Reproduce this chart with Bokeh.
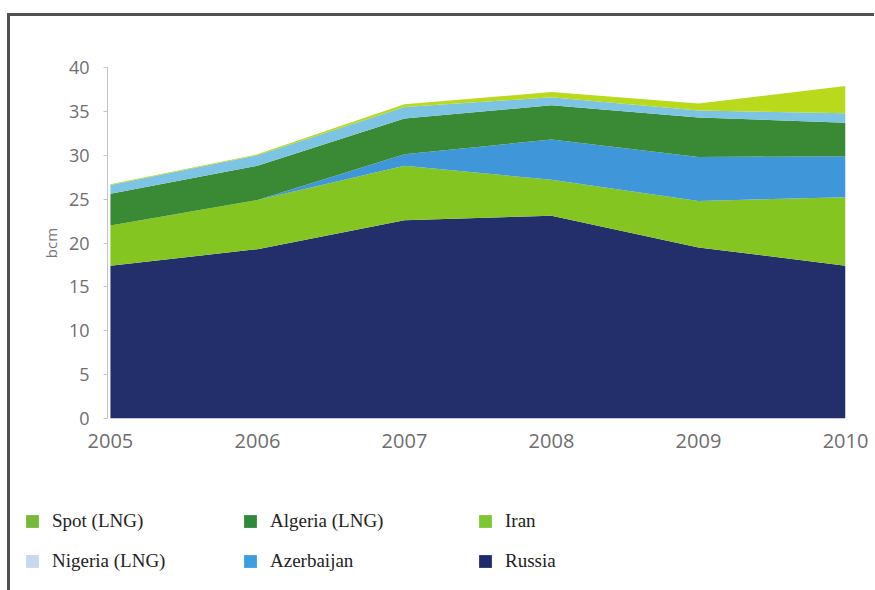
import numpy as np
from bokeh.plotting import figure
from bokeh.models import ColumnDataSource, Legend, LegendItem, FixedTicker, Range1d
from bokeh.layouts import column
from bokeh.embed import file_html
from bokeh.resources import INLINE

years = [2005, 2006, 2007, 2008, 2009, 2010]
russia = [17.4, 19.3, 22.6, 23.1, 19.5, 17.4]
iran = [4.6, 5.6, 6.2, 4.1, 5.3, 7.8]
azerbaijan = [0.0, 0.0, 1.3, 4.6, 5.0, 4.7]
algeria = [3.6, 3.9, 4.1, 3.9, 4.5, 3.8]
nigeria = [1.0, 1.2, 1.3, 0.9, 0.8, 1.1]
spot = [0.1, 0.1, 0.3, 0.6, 0.8, 3.1]

series = ["Russia", "Iran", "Azerbaijan", "Algeria (LNG)", "Nigeria (LNG)", "Spot (LNG)"]
area_colors = ["#232f6a", "#84c521", "#3f97d9", "#3a8a35", "#7cc3e4", "#b8d91c"]
legend_colors = {"Spot (LNG)": "#78b83c", "Algeria (LNG)": "#2f8a3b", "Iran": "#7dc832",
                 "Nigeria (LNG)": "#c6d8ee", "Azerbaijan": "#3a9ee0", "Russia": "#1e2a6e"}
y_ticks = [0, 5, 10, 15, 20, 25, 30, 35, 40]

src = ColumnDataSource(dict(x=years, **{"Russia": russia, "Iran": iran, "Azerbaijan": azerbaijan,
                                        "Algeria (LNG)": algeria, "Nigeria (LNG)": nigeria,
                                        "Spot (LNG)": spot}))

p = figure(width=864, height=447, output_backend="svg", toolbar_location=None,
           x_range=Range1d(2004.98, 2010.0), y_range=Range1d(0, 40),
           min_border_left=97, min_border_right=29, min_border_top=51, min_border_bottom=45)
p.frame_align = False

p.varea_stack(stackers=series, x="x", color=area_colors, source=src)

p.xgrid.visible = False
p.ygrid.visible = False
p.outline_line_color = None

p.xaxis.ticker = FixedTicker(ticks=years)
p.xaxis.axis_line_color = None
p.xaxis.major_tick_line_color = None
p.xaxis.minor_tick_line_color = None
p.xaxis.major_label_standoff = 9
p.xaxis.major_label_text_font = "Open Sans"
p.xaxis.major_label_text_font_size = "20px"
p.xaxis.major_label_text_color = "#6e6e6e"

p.yaxis.ticker = FixedTicker(ticks=y_ticks)
p.yaxis.axis_line_color = "#c4c4c4"
p.yaxis.major_tick_line_color = "#c4c4c4"
p.yaxis.major_tick_out = 4
p.yaxis.major_tick_in = 0
p.yaxis.minor_tick_line_color = None
p.yaxis.major_label_standoff = 14
p.yaxis.major_label_text_font = "Open Sans"
p.yaxis.major_label_text_font_size = "18px"
p.yaxis.major_label_text_color = "#6e6e6e"
p.yaxis.axis_label = "bcm"
p.yaxis.axis_label_text_font = "Open Sans"
p.yaxis.axis_label_text_font_style = "normal"
p.yaxis.axis_label_text_font_size = "15px"
p.yaxis.axis_label_text_color = "#777777"
p.yaxis.axis_label_standoff = 5

# legend panel
q = figure(width=864, height=127, output_backend="svg", toolbar_location=None,
           x_range=Range1d(0, 864), y_range=Range1d(0, 127),
           min_border=0, min_border_left=0, min_border_right=0,
           min_border_top=0, min_border_bottom=0)
q.frame_align = False
q.axis.visible = False
q.grid.visible = False
q.outline_line_color = None

nan = [np.nan]
dummies = {}
for name in series:
    dummies[name] = q.quad(left=nan, right=nan, bottom=nan, top=nan,
                           fill_color=legend_colors[name], line_color=None)

columns = [["Spot (LNG)", "Nigeria (LNG)"], ["Algeria (LNG)", "Azerbaijan"], ["Iran", "Russia"]]
col_x = [14, 232, 467]
for names, cx in zip(columns, col_x):
    lg = Legend(items=[LegendItem(label=n, renderers=[dummies[n]]) for n in names],
                location=(cx, 18), orientation="vertical",
                background_fill_alpha=0, border_line_color=None,
                padding=0, margin=0, spacing=18,
                glyph_width=16, glyph_height=16, label_height=20, label_standoff=12,
                label_text_font="Liberation Serif", label_text_font_size="19px",
                label_text_color="#222222")
    q.add_layout(lg, "center")

layout = column(p, q, spacing=0)
layout.margin = (13, 0, 0, 7)
layout.styles = {"border-top": "3px solid #505050", "border-left": "3px solid #505050"}

open("out.html", "w").write(file_html(layout, INLINE))
